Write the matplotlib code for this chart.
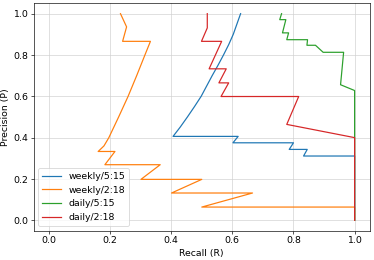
import matplotlib
matplotlib.use('Agg')
import matplotlib.pyplot as plt

plt.rcParams['font.size'] = 11.6

# Precision / recall points
recall_weekly_515 = [0.627, 0.615, 0.603, 0.588, 0.571, 0.553, 0.534, 0.516,
                     0.498, 0.476, 0.453, 0.429, 0.406,
                     0.619, 0.602, 0.800, 0.786, 0.845, 0.833, 1.0, 1.0]
precision_weekly_515 = [1.0, 0.95, 0.9, 0.85, 0.8, 0.75, 0.7, 0.65,
                        0.6, 0.55, 0.5, 0.45, 0.406,
                        0.406, 0.375, 0.375, 0.343, 0.343, 0.311, 0.311, 0.0]

recall_weekly_218 = [0.234, 0.254, 0.241, 0.332, 0.314, 0.287, 0.259,
                     0.228, 0.196, 0.180, 0.161, 0.216, 0.183, 0.364, 0.301,
                     0.500, 0.401, 0.666, 0.500, 1.0, 1.0]
precision_weekly_218 = [1.0, 0.936, 0.866, 0.866, 0.8, 0.7, 0.6,
                        0.5, 0.4, 0.36, 0.333, 0.333, 0.269, 0.269, 0.198,
                        0.198, 0.132, 0.132, 0.064, 0.064, 0.0]

recall_daily_515 = [0.761, 0.755, 0.775, 0.764, 0.784, 0.778, 0.846, 0.844,
                    0.872, 0.897, 0.964, 0.954, 1.0, 1.0]
precision_daily_515 = [1.0, 0.971, 0.971, 0.907, 0.907, 0.874, 0.874, 0.847,
                       0.847, 0.813, 0.813, 0.656, 0.628, 0.0]

recall_daily_218 = [0.518, 0.518, 0.499, 0.565, 0.524, 0.580, 0.556, 0.588,
                    0.563, 0.817, 0.778, 1.0, 1.0]
precision_daily_218 = [1.0, 0.931, 0.866, 0.866, 0.733, 0.733, 0.665, 0.665,
                       0.599, 0.599, 0.464, 0.400, 0.0]

labels = ['weekly/5:15', 'weekly/2:18', 'daily/5:15', 'daily/2:18']

fig = plt.figure(figsize=(6.4, 4.45), dpi=58.44)
ax = fig.add_subplot(111)
fig.subplots_adjust(left=0.09, right=0.989, bottom=0.113, top=0.987)

ax.plot(recall_weekly_515, precision_weekly_515, label=labels[0])
ax.plot(recall_weekly_218, precision_weekly_218, label=labels[1])
ax.plot(recall_daily_515, precision_daily_515, label=labels[2])
ax.plot(recall_daily_218, precision_daily_218, label=labels[3])

ax.set_xlim(-0.05, 1.05)
ax.set_ylim(-0.05, 1.05)
ax.set_xlabel('Recall (R)')
ax.set_ylabel('Precision (P)')
ax.grid(True, color='#d0d0d0')
ax.legend(loc='lower left')

fig.savefig('out.png', dpi=58.44)
